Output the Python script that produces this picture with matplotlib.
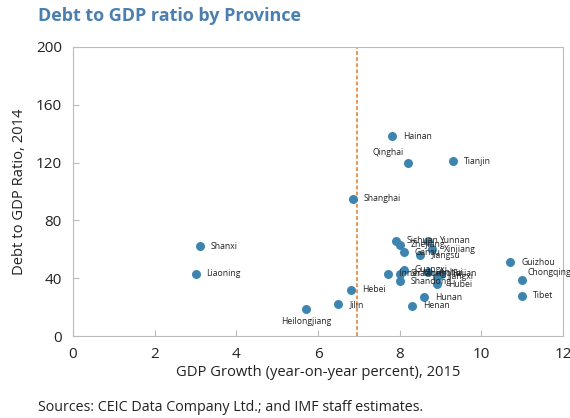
import matplotlib
matplotlib.use("Agg")
import matplotlib.pyplot as plt

plt.rcParams["font.family"] = ["Open Sans", "DejaVu Sans"]

provinces = ["Hainan", "Qinghai", "Tianjin", "Shanghai", "Shanxi", "Liaoning",
             "Hebei", "Jilin", "Heilongjiang", "Guizhou", "Chongqing", "Tibet",
             "Hunan", "Henan", "Hubei",
             "Sichuan", "Zhejiang", "Gansu", "Yunnan", "Xinjiang", "Jiangsu",
             "Inner Mongolia", "Guangxi", "Shaanxi", "Shandong", "Anhui", "Jiangxi", "Fujian"]
gdp_growth = [7.8, 8.2, 9.3, 6.85, 3.1, 3.0,
              6.8, 6.5, 5.7, 10.7, 11.0, 11.0,
              8.6, 8.3, 8.9,
              7.9, 8.0, 8.1, 8.7, 8.8, 8.5,
              7.7, 8.1, 8.0, 8.0, 8.7, 8.9, 9.0]
debt_gdp = [138, 120, 121, 95, 62, 43,
            32, 22, 19, 51, 39, 28,
            27, 21, 36,
            66, 63, 58, 66, 60, 56,
            43, 46, 43, 38, 44, 41, 43]
national_growth = 6.95

# label placement: (dx, dy in points, ha, va)
label_pos = {
    "Qinghai": (-3, 4, "right", "bottom"),
    "Heilongjiang": (0, -6, "center", "top"),
    "Chongqing": (4, 5, "left", "center"),
}

blue = "#3d85b0"
fig = plt.figure(figsize=(5.7, 4.18), dpi=100)
ax = fig.add_axes([0.128, 0.196, 0.860, 0.692])

ax.scatter(gdp_growth, debt_gdp, s=42, color=blue, zorder=3, linewidths=0)
for name, x, y in zip(provinces, gdp_growth, debt_gdp):
    dx, dy, ha, va = label_pos.get(name, (8, 0, "left", "center"))
    ax.annotate(name, (x, y), xytext=(dx, dy), textcoords="offset points",
                ha=ha, va=va, fontsize=6.2, color="#222222", zorder=4)

ax.axvline(national_growth, color="#e07b28", lw=1.1, ls=(0, (2.5, 1.5)), zorder=2)

ax.set_xlim(0, 12)
ax.set_ylim(0, 200)
ax.set_xticks(range(0, 13, 2))
ax.set_yticks(range(0, 201, 40))
ax.tick_params(direction="in", length=4, color="#bbbbbb", labelsize=11, pad=8,
               labelcolor="#222222")
for s in ax.spines.values():
    s.set_color("#bbbbbb")
    s.set_linewidth(0.8)
ax.set_xlabel("GDP Growth (year-on-year percent), 2015", fontsize=10.6, labelpad=2,
              color="#222222")
ax.set_ylabel("Debt to GDP Ratio, 2014", fontsize=10.6, labelpad=6, color="#222222")

fig.text(0.067, 0.962, "Debt to GDP ratio by Province", fontsize=13, fontweight="bold",
         color="#4a7fb0", ha="left", va="center")
fig.text(0.067, 0.024, "Sources: CEIC Data Company Ltd.; and IMF staff estimates.",
         fontsize=10.3, color="#222222", ha="left", va="center")

fig.savefig("out.png", dpi=100)
